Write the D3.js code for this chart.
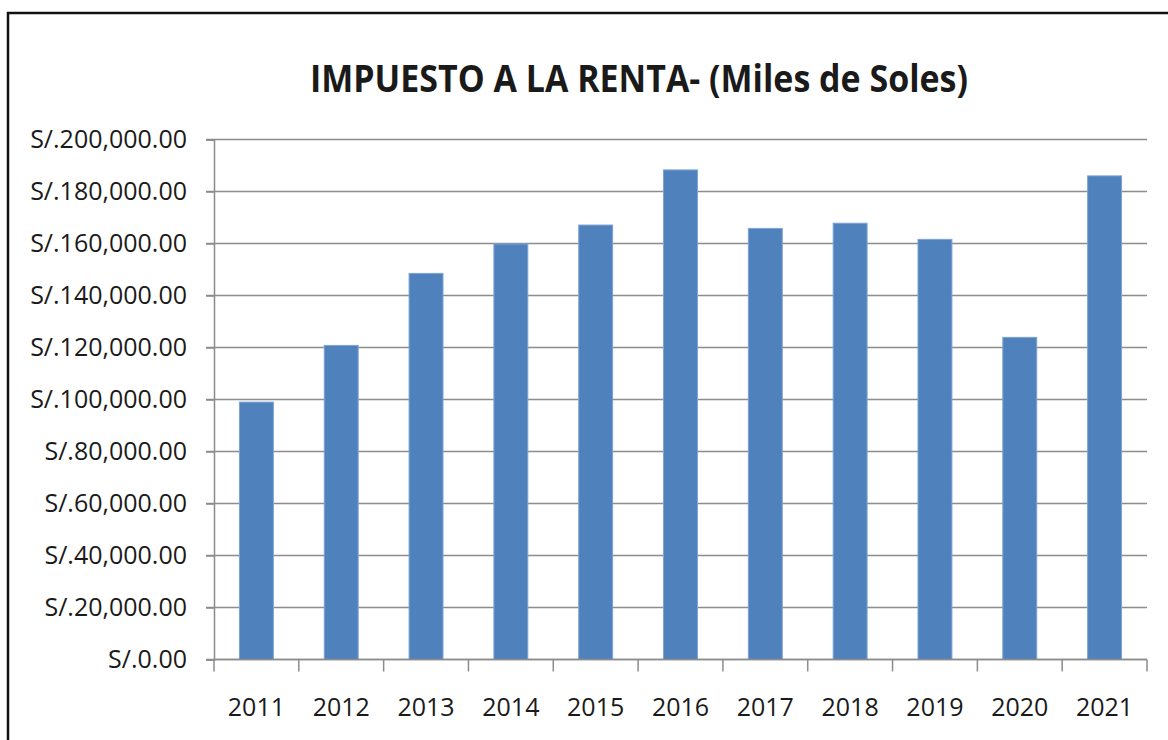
<!DOCTYPE html>
<html>
<head>
<meta charset="utf-8">
<script src="https://cdn.jsdelivr.net/npm/d3@7"></script>
<style>
    body { margin: 0; background: #fff; }
    svg { display: block; }
    text { font-family: "Liberation Sans Narrow", "Open Sans", sans-serif; fill: #1a1a1a; }
</style>
</head>
<body>
<svg id="chart"></svg>
<script>
/* datos del grafico */
const years = ["2011", "2012", "2013", "2014", "2015", "2016", "2017", "2018", "2019", "2020", "2021"];
const renta = [99000, 120800, 148500, 159800, 167100, 188300, 165800, 167800, 161600, 123900, 186000];
const yTicks = [0, 20000, 40000, 60000, 80000, 100000, 120000, 140000, 160000, 180000, 200000];
const title = "IMPUESTO A LA RENTA- (Miles de Soles)";

const width = 1168;
const height = 740;
const margin = { top: 139.5, bottom: 80.5, left: 214, right: 21 };

const svg = d3.select("#chart")
    .attr("width", width)
    .attr("height", height);

// marco exterior
svg.append("rect")
    .attr("x", 8)
    .attr("y", 13)
    .attr("width", width + 20)
    .attr("height", height + 20)
    .attr("fill", "none")
    .attr("stroke", "#111")
    .attr("stroke-width", 2.5);

svg.append("text")
    .attr("x", 639)
    .attr("y", 92)
    .attr("text-anchor", "middle")
    .attr("font-family", "'Open Sans', sans-serif")
    .attr("font-weight", "bold")
    .attr("font-size", 38)
    .attr("textLength", 658)
    .attr("lengthAdjust", "spacingAndGlyphs")
    .text(title);

const w = width - margin.left - margin.right;
const h = height - margin.top - margin.bottom;

const g = svg.append("g")
    .attr("transform", `translate(${[margin.left, margin.top]})`);

const x = d3.scaleBand()
    .domain(years)
    .range([0, w])
    .paddingInner(0.6)
    .paddingOuter(0.3);

const y = d3.scaleLinear()
    .domain([0, 200000])
    .range([h, 0]);

const money = (d) => "S/." + d3.format(",.2f")(d);

// lineas de cuadricula
g.append("g")
    .selectAll("line")
    .data(yTicks)
    .join("line")
    .attr("x1", -8)
    .attr("x2", w)
    .attr("y1", (d) => y(d))
    .attr("y2", (d) => y(d))
    .attr("stroke", "#8c8c8c")
    .attr("stroke-width", 1.5);

g.selectAll(".bar")
    .data(renta)
    .join("rect")
    .attr("class", "bar")
    .attr("x", (d, i) => x(years[i]))
    .attr("y", (d) => y(d))
    .attr("width", x.bandwidth())
    .attr("height", (d) => h - y(d))
    .attr("fill", "#4f81bd")
    .attr("stroke", "#7ea3d3")
    .attr("stroke-width", 1);

// eje y
const yAxis = g.append("g")
    .call(d3.axisLeft(y).tickValues(yTicks).tickFormat(money).tickSize(8).tickPadding(19));
yAxis.select(".domain").attr("stroke", "#8c8c8c").attr("stroke-width", 1.5);
yAxis.selectAll(".tick line").attr("stroke", "#8c8c8c").attr("stroke-width", 1.5);
yAxis.selectAll("text").attr("font-size", 25).attr("fill", "#1a1a1a")
    .attr("font-family", "'Liberation Sans Narrow', 'Open Sans', sans-serif");

// eje x, marcas entre categorias
const step = x.step();
const xAxis = g.append("g")
    .attr("transform", `translate(0,${h})`);
xAxis.append("line")
    .attr("x1", 0).attr("x2", w)
    .attr("stroke", "#8c8c8c").attr("stroke-width", 1.5);
xAxis.selectAll(".sep")
    .data(d3.range(years.length + 1))
    .join("line")
    .attr("class", "sep")
    .attr("x1", (i) => i * w / years.length)
    .attr("x2", (i) => i * w / years.length)
    .attr("y1", 0).attr("y2", 12)
    .attr("stroke", "#8c8c8c").attr("stroke-width", 1.5);
xAxis.selectAll(".lbl")
    .data(years)
    .join("text")
    .attr("class", "lbl")
    .attr("x", (d) => x(d) + x.bandwidth() / 2)
    .attr("y", 56)
    .attr("text-anchor", "middle")
    .attr("font-size", 25)
    .text((d) => d);
</script>
</body>
</html>
